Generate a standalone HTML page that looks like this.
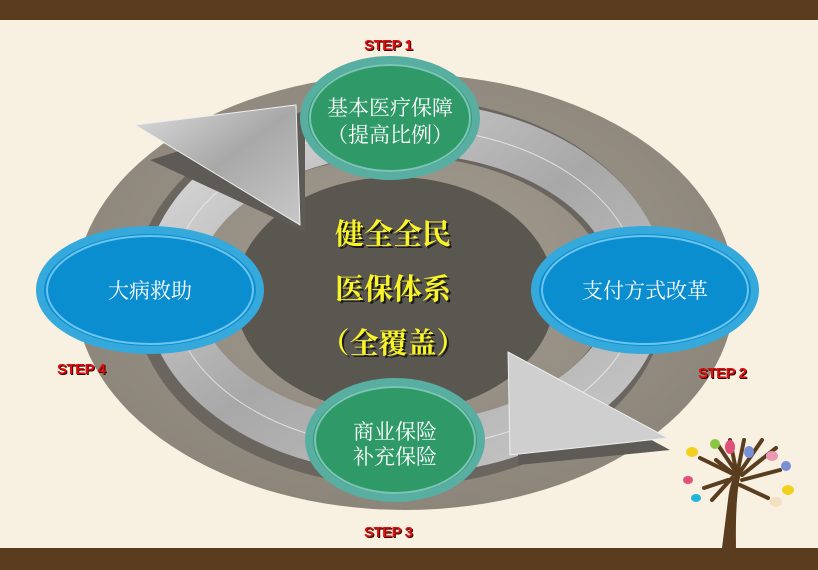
<!DOCTYPE html>
<html><head><meta charset="utf-8"><style>
body{margin:0;background:#f8f0e0}
svg{display:block}
.st{font-family:"Liberation Sans",sans-serif;font-weight:bold;font-size:15px;fill:#e01010;letter-spacing:-0.5px}
.sts{font-family:"Liberation Sans",sans-serif;font-weight:bold;font-size:15px;fill:#300;letter-spacing:-0.5px}
.w{font-family:"Liberation Serif","Noto Serif CJK SC",serif;fill:#fff;font-size:21px;text-anchor:middle}
.y{font-family:"Liberation Serif","Noto Serif CJK SC",serif;fill:#f8f428;font-size:29px;font-weight:bold;text-anchor:middle}
.ys{font-family:"Liberation Serif","Noto Serif CJK SC",serif;fill:#1a1a1a;font-size:29px;font-weight:bold;text-anchor:middle}
</style></head><body>
<svg width="818" height="570" viewBox="0 0 818 570">
<defs>
<radialGradient id="og" cx=".5" cy=".45" r=".6"><stop offset="0" stop-color="#a49d92"/><stop offset="1" stop-color="#8a8378"/></radialGradient>
<linearGradient id="rg" x1="0" y1="0" x2="1" y2="1"><stop offset="0" stop-color="#dcdcdc"/><stop offset=".5" stop-color="#a8a8a8"/><stop offset="1" stop-color="#c8c8c8"/></linearGradient>
</defs>
<rect x="0" y="0" width="818" height="20" fill="#5a3d1e"/>
<rect x="0" y="548" width="818" height="22" fill="#5a3d1e"/>
<ellipse cx="405" cy="292" rx="330" ry="218" fill="url(#og)"/>
<ellipse cx="400" cy="292" rx="238" ry="165" fill="none" stroke="#6a655e" stroke-width="58"/>
<ellipse cx="405" cy="288" rx="235" ry="160" fill="none" stroke="url(#rg)" stroke-width="52"/>
<ellipse cx="405" cy="288" rx="235" ry="160" fill="none" stroke="#f4f4f4" stroke-width="1" opacity=".7"/>
<ellipse cx="395" cy="295" rx="160" ry="118" fill="#5a5650"/>
<polygon points="150,160 305,112 305,232" fill="#5e5a55"/>
<polygon points="135,125 296,105 300,225" fill="url(#rg)" stroke="#eee" stroke-width="1"/>
<polygon points="518,368 518,465 670,450" fill="#5e5a55"/>
<polygon points="508,352 510,455 668,438" fill="#cfcfcf" stroke="#eee" stroke-width="1"/>
<g>
<ellipse cx="390" cy="118" rx="86" ry="58" fill="#2f9a68" stroke="#58aea0" stroke-width="8"/>
<ellipse cx="390" cy="118" rx="80" ry="53" fill="none" stroke="#7cc4b8" stroke-width="2"/>
<ellipse cx="395" cy="440" rx="86" ry="58" fill="#2f9a68" stroke="#58aea0" stroke-width="8"/>
<ellipse cx="395" cy="440" rx="80" ry="53" fill="none" stroke="#7cc4b8" stroke-width="2"/>
<ellipse cx="150" cy="290" rx="110" ry="60" fill="#0a8ecf" stroke="#35a8dc" stroke-width="8"/>
<ellipse cx="150" cy="290" rx="103" ry="54" fill="none" stroke="#6cc4ec" stroke-width="2"/>
<ellipse cx="645" cy="290" rx="110" ry="60" fill="#0a8ecf" stroke="#35a8dc" stroke-width="8"/>
<ellipse cx="645" cy="290" rx="103" ry="54" fill="none" stroke="#6cc4ec" stroke-width="2"/>
</g>
<text class="w" x="390" y="115">基本医疗保障</text>
<text class="w" x="390" y="142">（提高比例）</text>
<text class="w" x="395" y="439">商业保险</text>
<text class="w" x="395" y="464">补充保险</text>
<text class="w" x="150" y="298">大病救助</text>
<text class="w" x="645" y="298">支付方式改革</text>
<text class="ys" x="395" y="246">健全全民</text>
<text class="ys" x="395" y="301">医保体系</text>
<text class="ys" x="395" y="355">（全覆盖）</text>
<text class="y" x="393" y="244">健全全民</text>
<text class="y" x="393" y="299">医保体系</text>
<text class="y" x="393" y="353">（全覆盖）</text>
<text class="sts" x="365" y="51">STEP 1</text>
<text class="sts" x="699" y="379">STEP 2</text>
<text class="sts" x="365" y="538">STEP 3</text>
<text class="sts" x="58" y="375">STEP 4</text>
<text class="st" x="364" y="50">STEP 1</text>
<text class="st" x="698" y="378">STEP 2</text>
<text class="st" x="364" y="537">STEP 3</text>
<text class="st" x="57" y="374">STEP 4</text>
<g fill="#5a3d1e" stroke="#5a3d1e" stroke-linecap="round">
<path d="M722,548 L728,500 Q730,480 738,470 L742,470 Q735,490 736,548 Z" stroke="none"/>
<path d="M735,475 L700,458 M735,475 L716,460 M736,472 L718,445 M736,470 L730,440 M738,470 L744,440 M740,472 L762,440 M742,475 L776,448 M742,480 L780,470 M740,485 L768,498 M732,478 L712,500 M728,480 L704,488" stroke-width="4" fill="none"/>
</g>
<g>
<ellipse cx="692" cy="452" rx="6" ry="5" fill="#f4d01e"/>
<ellipse cx="715" cy="444" rx="5" ry="5" fill="#8ac642"/>
<ellipse cx="730" cy="447" rx="5" ry="7" fill="#e05078"/>
<ellipse cx="749" cy="452" rx="5" ry="6" fill="#7890d8"/>
<ellipse cx="772" cy="456" rx="6" ry="5" fill="#ec98b0"/>
<ellipse cx="786" cy="466" rx="5" ry="5" fill="#7890d8"/>
<ellipse cx="788" cy="490" rx="6" ry="5" fill="#f4d01e"/>
<ellipse cx="776" cy="502" rx="6" ry="5" fill="#f4e0c0"/>
<ellipse cx="688" cy="480" rx="5" ry="4" fill="#e05078"/>
<ellipse cx="696" cy="498" rx="5" ry="4" fill="#20b8d8"/>
</g>
</svg>
</body></html>
